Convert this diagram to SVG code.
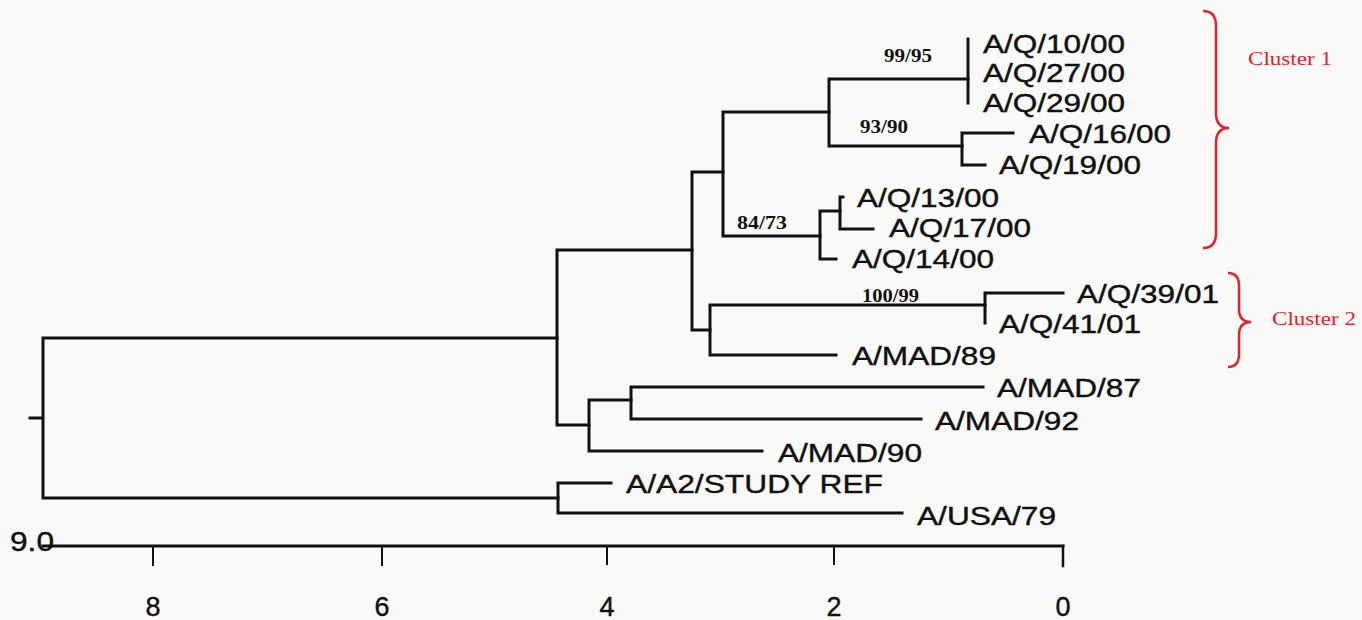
<svg xmlns="http://www.w3.org/2000/svg" width="1362" height="620" viewBox="0 0 1362 620">
<style>
.br{stroke:#111;stroke-width:3;fill:none;stroke-linecap:square}
.tk{stroke:#111;stroke-width:2;fill:none}
.leaf{font-family:"Liberation Sans",Arial,sans-serif;font-size:26px;fill:#111;stroke:#111;stroke-width:0.4}
.sup{font-family:"Liberation Serif","Times New Roman",serif;font-size:18px;font-weight:bold;fill:#111}
.cl{font-family:"Liberation Serif","Times New Roman",serif;font-size:19px;fill:#e3222b}
.brace{stroke:#e3222b;stroke-width:2.5;fill:none}
.ax{font-family:"Liberation Sans",Arial,sans-serif;font-size:27px;fill:#111;stroke:#111;stroke-width:0.4}
</style>
<rect width="1362" height="620" fill="#f9f9f7"/>
<g id="connectors">
<path class="br" d="M30,418H43 M43,338V498 M43,338H557 M43,498H558"/>
<path class="br" d="M557,250V425 M557,250H692 M557,425H589"/>
<path class="br" d="M692,172V330 M692,172H723 M692,330H710"/>
<path class="br" d="M723,112V236 M723,112H829 M723,236H820"/>
<path class="br" d="M829,79V146 M829,79H968 M829,146H962"/>
<path class="br" d="M968,39V103"/>
<path class="br" d="M962,133V165 M962,133H1013 M962,165H985"/>
<path class="br" d="M820,211V259 M820,211H840 M820,259H836"/>
<path class="br" d="M840,197V229 M840,197H843 M840,229H873"/>
<path class="br" d="M710,305V355 M710,305H985 M710,355H836"/>
<path class="br" d="M985,293V323 M985,293H1063"/>
<path class="br" d="M589,400V451 M589,400H631 M589,451H762"/>
<path class="br" d="M631,387V419 M631,387H983 M631,419H921"/>
<path class="br" d="M558,483V513 M558,483H611 M558,513H902"/>
</g>
<g id="leaf-Q10"><text class="leaf" x="983" y="53" textLength="142" lengthAdjust="spacingAndGlyphs">A/Q/10/00</text></g>
<g id="leaf-Q27"><text class="leaf" x="983" y="82" textLength="142" lengthAdjust="spacingAndGlyphs">A/Q/27/00</text></g>
<g id="leaf-Q29"><text class="leaf" x="983" y="112" textLength="142" lengthAdjust="spacingAndGlyphs">A/Q/29/00</text></g>
<g id="leaf-Q16"><text class="leaf" x="1029" y="143" textLength="142" lengthAdjust="spacingAndGlyphs">A/Q/16/00</text></g>
<g id="leaf-Q19"><text class="leaf" x="999" y="174" textLength="142" lengthAdjust="spacingAndGlyphs">A/Q/19/00</text></g>
<g id="leaf-Q13"><text class="leaf" x="857" y="207" textLength="142" lengthAdjust="spacingAndGlyphs">A/Q/13/00</text></g>
<g id="leaf-Q17"><text class="leaf" x="889" y="237" textLength="142" lengthAdjust="spacingAndGlyphs">A/Q/17/00</text></g>
<g id="leaf-Q14"><text class="leaf" x="852" y="268" textLength="142" lengthAdjust="spacingAndGlyphs">A/Q/14/00</text></g>
<g id="leaf-Q39"><text class="leaf" x="1077" y="303" textLength="142" lengthAdjust="spacingAndGlyphs">A/Q/39/01</text></g>
<g id="leaf-Q41"><text class="leaf" x="999" y="333" textLength="142" lengthAdjust="spacingAndGlyphs">A/Q/41/01</text></g>
<g id="leaf-MAD89"><text class="leaf" x="852" y="365" textLength="144" lengthAdjust="spacingAndGlyphs">A/MAD/89</text></g>
<g id="leaf-MAD87"><text class="leaf" x="997" y="397" textLength="144" lengthAdjust="spacingAndGlyphs">A/MAD/87</text></g>
<g id="leaf-MAD92"><text class="leaf" x="935" y="430" textLength="144" lengthAdjust="spacingAndGlyphs">A/MAD/92</text></g>
<g id="leaf-MAD90"><text class="leaf" x="778" y="462" textLength="144" lengthAdjust="spacingAndGlyphs">A/MAD/90</text></g>
<g id="leaf-A2"><text class="leaf" x="626" y="493" textLength="257" lengthAdjust="spacingAndGlyphs">A/A2/STUDY REF</text></g>
<g id="leaf-USA79"><text class="leaf" x="917" y="525" textLength="139" lengthAdjust="spacingAndGlyphs">A/USA/79</text></g>
<g id="support-99-95"><text class="sup" x="884" y="62" textLength="48" lengthAdjust="spacingAndGlyphs">99/95</text></g>
<g id="support-93-90"><text class="sup" x="860" y="133" textLength="48" lengthAdjust="spacingAndGlyphs">93/90</text></g>
<g id="support-84-73"><text class="sup" x="737" y="229" textLength="50" lengthAdjust="spacingAndGlyphs">84/73</text></g>
<g id="support-100-99"><text class="sup" x="862" y="302" textLength="57" lengthAdjust="spacingAndGlyphs">100/99</text></g>
<g id="cluster1">
<path class="brace" d="M1203,11 Q1216,11 1216,26 V113 Q1216,128 1229,128 Q1216,128 1216,143 V233 Q1216,248 1203,248"/>
<text class="cl" x="1248" y="65" textLength="84" lengthAdjust="spacingAndGlyphs">Cluster 1</text>
</g>
<g id="cluster2">
<path class="brace" d="M1228,273 Q1239,273 1239,286 V309 Q1239,322 1251,322 Q1239,322 1239,335 V354 Q1239,367 1228,367"/>
<text class="cl" x="1272" y="325" textLength="84" lengthAdjust="spacingAndGlyphs">Cluster 2</text>
</g>
<g id="axis">
<path class="br" d="M43,546H1063"/>
<path class="tk" d="M153,546V566 M382,546V566 M607,546V565 M834,546V565"/>
<path class="br" d="M1063,546V566" style="stroke-width:2.5"/>
<text class="ax" x="10" y="551" textLength="44" lengthAdjust="spacingAndGlyphs">9.0</text>
<text class="ax" x="153" y="616" text-anchor="middle">8</text>
<text class="ax" x="382" y="616" text-anchor="middle">6</text>
<text class="ax" x="607" y="616" text-anchor="middle">4</text>
<text class="ax" x="834" y="616" text-anchor="middle">2</text>
<text class="ax" x="1063" y="616" text-anchor="middle">0</text>
</g>
</svg>
